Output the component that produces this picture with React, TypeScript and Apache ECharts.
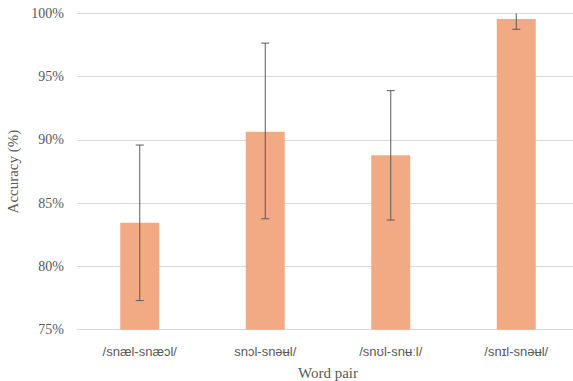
import React, { useEffect, useRef } from "react";
import * as echarts from "echarts";

const categories = ["/snæl-snæɔl/", "snɔl-snəʉl/", "/snʊl-snʉːl/", "/snɪl-snəʉl/"];
const accuracy = [83.45, 90.65, 88.8, 99.56];
const errLow = [77.3, 83.77, 83.67, 98.75];
const errHigh = [89.6, 97.66, 93.9, 100.4];
const yTicks = { min: 75, max: 100, interval: 5 };

const SERIF = "'Liberation Serif', 'Times New Roman', serif";
const SANS = "'Liberation Sans', Arial, 'DejaVu Sans', sans-serif";

export default function App() {
  const ref = useRef<HTMLDivElement>(null);
  useEffect(() => {
    if (!ref.current) return;
    const chart = echarts.init(ref.current, undefined, { renderer: "svg" });
    const errData = categories.map((c, i) => [i, errLow[i], errHigh[i]]);
    chart.setOption({
      animation: false,
      grid: { left: 77, right: -6, top: 13.5, bottom: 51.3, outerBoundsMode: "none" },
      xAxis: {
        type: "category",
        data: categories,
        name: "Word pair",
        nameLocation: "middle",
        nameGap: 36,
        nameTextStyle: { fontFamily: SERIF, fontSize: 15, color: "#595959" },
        axisLine: { show: true, lineStyle: { color: "#d9d9d9", width: 1 } },
        axisTick: { show: false },
        axisLabel: { fontFamily: SANS, fontSize: 13, color: "#595959", margin: 15 },
      },
      yAxis: {
        type: "value",
        min: yTicks.min,
        max: yTicks.max,
        interval: yTicks.interval,
        name: "Accuracy (%)",
        nameLocation: "middle",
        nameGap: 54,
        nameTextStyle: { fontFamily: SERIF, fontSize: 15, color: "#595959" },
        axisLine: { show: false },
        axisTick: { show: false },
        axisLabel: { formatter: "{value}%", fontFamily: SERIF, fontSize: 14, color: "#595959", margin: 13 },
        splitLine: { lineStyle: { color: "#d9d9d9", width: 1 } },
      },
      series: [
        {
          type: "bar",
          data: accuracy,
          barWidth: 39,
          itemStyle: { color: "#F2AA84" },
        },
        {
          type: "custom",
          clip: true,
          data: errData,
          renderItem: (params: any, api: any) => {
            const x = api.value(0);
            const lo = api.coord([x, api.value(1)]);
            const hi = api.coord([x, api.value(2)]);
            const hw = 4;
            const style = { stroke: "#5a5a5a", lineWidth: 1 };
            return {
              type: "group",
              children: [
                { type: "line", shape: { x1: lo[0], y1: lo[1], x2: hi[0], y2: hi[1] }, style },
                { type: "line", shape: { x1: lo[0] - hw, y1: lo[1], x2: lo[0] + hw, y2: lo[1] }, style },
                { type: "line", shape: { x1: hi[0] - hw, y1: hi[1], x2: hi[0] + hw, y2: hi[1] }, style },
              ],
            };
          },
          z: 3,
        },
      ],
    });
    return () => chart.dispose();
  }, []);
  return (
    <div
      ref={ref}
      style={{ position: "fixed", left: 0, top: 0, width: 573, height: 381, background: "#fff" }}
    />
  );
}
